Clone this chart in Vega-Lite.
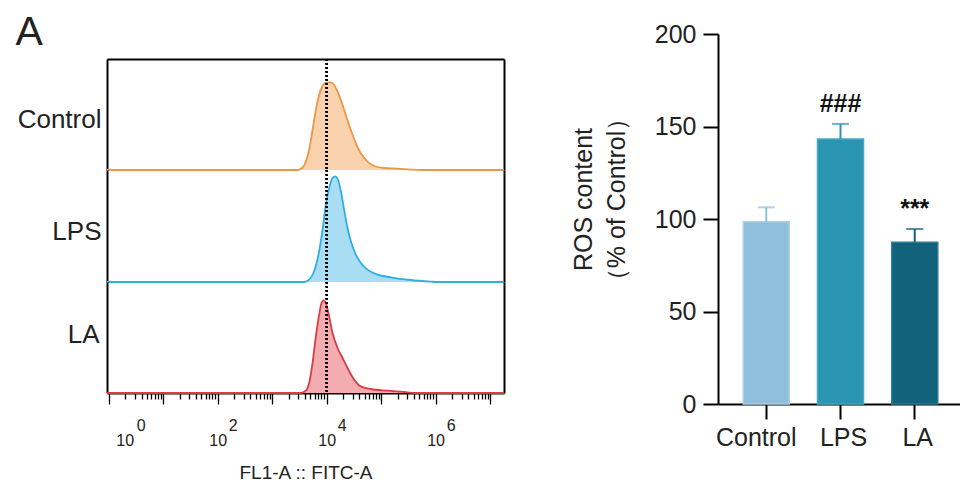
{
  "$schema": "https://vega.github.io/schema/vega-lite/v6.json",
  "background": "white",
  "padding": {"left": 15, "top": 11, "right": 0, "bottom": 0},
  "datasets": {
    "hist": [
      {"group": "Control", "fl1": 0.93, "count": 0},
      {"group": "Control", "fl1": 2924, "count": 0},
      {"group": "Control", "fl1": 3614, "count": 2.4},
      {"group": "Control", "fl1": 4150, "count": 8.4},
      {"group": "Control", "fl1": 4775, "count": 20},
      {"group": "Control", "fl1": 5508, "count": 40},
      {"group": "Control", "fl1": 6339, "count": 60},
      {"group": "Control", "fl1": 7278, "count": 75},
      {"group": "Control", "fl1": 8414, "count": 84},
      {"group": "Control", "fl1": 9661, "count": 87.4},
      {"group": "Control", "fl1": 11940, "count": 87.7},
      {"group": "Control", "fl1": 13740, "count": 85},
      {"group": "Control", "fl1": 15850, "count": 78.4},
      {"group": "Control", "fl1": 19590, "count": 65},
      {"group": "Control", "fl1": 22490, "count": 55},
      {"group": "Control", "fl1": 27800, "count": 40},
      {"group": "Control", "fl1": 34360, "count": 26.7},
      {"group": "Control", "fl1": 42460, "count": 16.7},
      {"group": "Control", "fl1": 56230, "count": 8.4},
      {"group": "Control", "fl1": 74470, "count": 4},
      {"group": "Control", "fl1": 113500, "count": 2},
      {"group": "Control", "fl1": 200000, "count": 1.4},
      {"group": "Control", "fl1": 350800, "count": 0.4},
      {"group": "Control", "fl1": 606700, "count": 0},
      {"group": "Control", "fl1": 18000000, "count": 0},
      {"group": "LPS", "fl1": 0.93, "count": 0},
      {"group": "LPS", "fl1": 3864, "count": 0},
      {"group": "LPS", "fl1": 4775, "count": 2.4},
      {"group": "LPS", "fl1": 5902, "count": 10.7},
      {"group": "LPS", "fl1": 7278, "count": 30.7},
      {"group": "LPS", "fl1": 8414, "count": 52.4},
      {"group": "LPS", "fl1": 9661, "count": 77.4},
      {"group": "LPS", "fl1": 11120, "count": 94},
      {"group": "LPS", "fl1": 12820, "count": 104},
      {"group": "LPS", "fl1": 14320, "count": 105.7},
      {"group": "LPS", "fl1": 15850, "count": 103.4},
      {"group": "LPS", "fl1": 18240, "count": 90.7},
      {"group": "LPS", "fl1": 20940, "count": 72.4},
      {"group": "LPS", "fl1": 24150, "count": 54},
      {"group": "LPS", "fl1": 27800, "count": 40.7},
      {"group": "LPS", "fl1": 34360, "count": 27.4},
      {"group": "LPS", "fl1": 42460, "count": 19},
      {"group": "LPS", "fl1": 56230, "count": 12.4},
      {"group": "LPS", "fl1": 85900, "count": 7.4},
      {"group": "LPS", "fl1": 150700, "count": 4.7},
      {"group": "LPS", "fl1": 350800, "count": 2},
      {"group": "LPS", "fl1": 816600, "count": 0.4},
      {"group": "LPS", "fl1": 1084000, "count": 0},
      {"group": "LPS", "fl1": 18000000, "count": 0},
      {"group": "LA", "fl1": 0.93, "count": 0},
      {"group": "LA", "fl1": 3365, "count": 0},
      {"group": "LA", "fl1": 4150, "count": 2.3},
      {"group": "LA", "fl1": 4775, "count": 10},
      {"group": "LA", "fl1": 5508, "count": 30},
      {"group": "LA", "fl1": 6339, "count": 56.6},
      {"group": "LA", "fl1": 7278, "count": 78.3},
      {"group": "LA", "fl1": 8054, "count": 90},
      {"group": "LA", "fl1": 8770, "count": 92.6},
      {"group": "LA", "fl1": 9661, "count": 90},
      {"group": "LA", "fl1": 11120, "count": 76.6},
      {"group": "LA", "fl1": 12820, "count": 60},
      {"group": "LA", "fl1": 15850, "count": 45},
      {"group": "LA", "fl1": 19590, "count": 35},
      {"group": "LA", "fl1": 24150, "count": 25},
      {"group": "LA", "fl1": 31990, "count": 13.3},
      {"group": "LA", "fl1": 42460, "count": 6.6},
      {"group": "LA", "fl1": 64710, "count": 4},
      {"group": "LA", "fl1": 130900, "count": 2.3},
      {"group": "LA", "fl1": 264200, "count": 1},
      {"group": "LA", "fl1": 403600, "count": 0},
      {"group": "LA", "fl1": 18000000, "count": 0}
    ],
    "bars": [
      {"group": "Control", "mean": 98.5, "upper": 106.3, "sig": ""},
      {"group": "LPS", "mean": 143.2, "upper": 151.4, "sig": "###"},
      {"group": "LA", "mean": 87.4, "upper": 94.6, "sig": "***"}
    ]
  },
  "hconcat": [
    {
      "data": {"name": "hist"},
      "spacing": 0,
      "bounds": "flush",
      "vconcat": [
        {
          "width": 397, "height": 25,
          "transform": [{"filter": "datum.group === 'Control' && datum.count > 87.5"}],
          "mark": {"type": "rule", "opacity": 0},
          "encoding": {}
        },
        {
          "width": 397, "height": 111,
          "transform": [{"filter": "datum.group === 'Control'"}],
          "layer": [
            {"mark": {"type": "area", "color": "#fad3ae", "interpolate": "monotone"},
             "encoding": {
               "x": {"field": "fl1", "type": "quantitative", "scale": {"type": "log", "domain": [0.93, 18000000], "nice": false},
                     "axis": {"orient": "top", "domainColor": "black", "domainWidth": 2, "ticks": false, "labels": false, "grid": false,
                              "title": "A", "titleFontSize": 41, "titleFontWeight": "normal", "titleColor": "#222", "titleAngle": 0,
                              "titleAlign": "left", "titleBaseline": "alphabetic", "titleX": -92, "titleY": -15}},
               "y": {"field": "count", "type": "quantitative", "scale": {"domain": [0, 111], "nice": false},
                     "axis": {"orient": "left", "domainColor": "black", "domainWidth": 2, "ticks": false, "labels": false, "grid": false, "title": "Control", "titleAngle": 0, "titleAlign": "right", "titleBaseline": "middle", "titleFontSize": 26, "titleFontWeight": "normal", "titlePadding": 6, "titleColor": "#222", "titleY": 60}}
             }},
            {"mark": {"type": "line", "color": "#eb9747", "strokeWidth": 1.8, "interpolate": "monotone"},
             "encoding": {
               "x": {"field": "fl1", "type": "quantitative", "axis": null},
               "y": {"field": "count", "type": "quantitative", "axis": {"orient": "right", "domainColor": "black", "domainWidth": 2, "ticks": false, "labels": false, "grid": false, "title": null}}
             }},
            {"mark": {"type": "rule", "color": "black", "strokeDash": [1.6, 2.4], "strokeWidth": 1.5},
             "encoding": {"x": {"datum": 10000, "type": "quantitative", "axis": null}}}
          ],
          "resolve": {"axis": {"x": "independent", "y": "independent"}}
        },
        {
          "width": 397, "height": 112,
          "transform": [{"filter": "datum.group === 'LPS'"}],
          "layer": [
            {"mark": {"type": "area", "color": "#a9ddf3", "interpolate": "monotone"},
             "encoding": {
               "x": {"field": "fl1", "type": "quantitative", "scale": {"type": "log", "domain": [0.93, 18000000], "nice": false}, "axis": null},
               "y": {"field": "count", "type": "quantitative", "scale": {"domain": [0, 112], "nice": false},
                     "axis": {"orient": "left", "domainColor": "black", "domainWidth": 2, "ticks": false, "labels": false, "grid": false, "title": "LPS", "titleAngle": 0, "titleAlign": "right", "titleBaseline": "middle", "titleFontSize": 26, "titleFontWeight": "normal", "titlePadding": 6, "titleColor": "#222", "titleY": 61}}
             }},
            {"mark": {"type": "line", "color": "#2fafe1", "strokeWidth": 1.8, "interpolate": "monotone"},
             "encoding": {
               "x": {"field": "fl1", "type": "quantitative", "axis": null},
               "y": {"field": "count", "type": "quantitative", "axis": {"orient": "right", "domainColor": "black", "domainWidth": 2, "ticks": false, "labels": false, "grid": false, "title": null}}
             }},
            {"mark": {"type": "rule", "color": "black", "strokeDash": [1.6, 2.4], "strokeWidth": 1.5},
             "encoding": {"x": {"datum": 10000, "type": "quantitative", "axis": null}}}
          ],
          "resolve": {"axis": {"x": "independent", "y": "independent"}}
        },
        {
          "width": 397, "height": 111,
          "transform": [{"filter": "datum.group === 'LA'"}],
          "layer": [
            {"mark": {"type": "area", "color": "#f3adb0", "interpolate": "monotone"},
             "encoding": {
               "x": {"field": "fl1", "type": "quantitative", "scale": {"type": "log", "domain": [0.93, 18000000], "nice": false},
                     "axis": {"orient": "bottom", "domainColor": "black", "domainWidth": 2, "grid": false,
                              "values": [1,2,3,4,5,6,7,8,9,10,20,30,40,50,60,70,80,90,100,200,300,400,500,600,700,800,900,1000,2000,3000,4000,5000,6000,7000,8000,9000,10000,20000,30000,40000,50000,60000,70000,80000,90000,100000,200000,300000,400000,500000,600000,700000,800000,900000,1000000,2000000,3000000,4000000,5000000,6000000,7000000,8000000,9000000,10000000],
                              "tickColor": "black", "tickWidth": 1.3,
                              "tickSize": {"condition": {"test": "indexof([1,10,100,1000,10000,100000,1000000,10000000], datum.value) >= 0", "value": 11}, "value": 6},
                              "labelExpr": "indexof([1,100,10000,1000000], datum.value) >= 0 ? '10' : ''",
                              "labelOffset": {"condition": {"test": "datum.value == 1", "value": 16}, "value": 0},
                              "labelOverlap": false, "labelFlush": false, "labelFontSize": 16, "labelColor": "#222", "labelPadding": 28,
                              "title": "FL1-A :: FITC-A", "titleFontSize": 19, "titleFontWeight": "normal", "titleColor": "#222", "titlePadding": 15}},
               "y": {"field": "count", "type": "quantitative", "scale": {"domain": [0, 111], "nice": false},
                     "axis": {"orient": "left", "domainColor": "black", "domainWidth": 2, "ticks": false, "labels": false, "grid": false, "title": "LA", "titleAngle": 0, "titleAlign": "right", "titleBaseline": "middle", "titleFontSize": 26, "titleFontWeight": "normal", "titlePadding": 8, "titleColor": "#222", "titleY": 52}}
             }},
            {"mark": {"type": "line", "color": "#d93c44", "strokeWidth": 1.8, "interpolate": "monotone"},
             "encoding": {
               "x": {"field": "fl1", "type": "quantitative",
                     "axis": {"orient": "bottom", "domain": false, "ticks": false, "grid": false, "values": [1, 100, 10000, 1000000],
                              "labelExpr": "format(log(datum.value)/LN10, 'd')", "labelOverlap": false, "labelFlush": false,
                              "labelOffset": {"condition": {"test": "datum.value == 1", "value": 32}, "value": 15},
                              "labelFontSize": 16, "labelColor": "#222", "labelPadding": 24, "title": null}},
               "y": {"field": "count", "type": "quantitative", "axis": {"orient": "right", "domainColor": "black", "domainWidth": 2, "ticks": false, "labels": false, "grid": false, "title": null}}
             }},
            {"mark": {"type": "rule", "color": "black", "strokeDash": [1.6, 2.4], "strokeWidth": 1.5},
             "encoding": {"x": {"datum": 10000, "type": "quantitative", "axis": null}}}
          ],
          "resolve": {"axis": {"x": "independent", "y": "independent"}}
        }
      ]
    },
    {
      "width": 245, "height": 370,
      "data": {"name": "bars"},
      "encoding": {
        "x": {"field": "group", "type": "nominal", "sort": ["Control", "LPS", "LA"],
              "scale": {"paddingInner": 0.38, "paddingOuter": 0.34},
              "axis": {"domainColor": "black", "domainWidth": 2, "tickColor": "black", "tickWidth": 2, "tickSize": 15, "labelFontSize": 25, "labelColor": "#222", "labelPadding": 6, "labelAngle": 0, "title": null,
                       "labelOffset": {"condition": {"test": "datum.value === 'Control'", "value": -10}, "value": 3}}}
      },
      "layer": [
        {"mark": {"type": "bar", "strokeWidth": 1.5},
         "encoding": {
           "y": {"field": "mean", "type": "quantitative", "scale": {"domain": [0, 200], "nice": false},
                 "axis": {"values": [0, 50, 100, 150, 200], "grid": false, "domainColor": "black", "domainWidth": 2, "tickColor": "black", "tickWidth": 2, "tickSize": 15,
                          "labelFontSize": 25, "labelColor": "#222", "labelPadding": 7,
                          "title": ["ROS content", "（% of Control）"], "titleFontSize": 25, "titleFontWeight": "normal", "titleColor": "#222", "titlePadding": 25, "titleLineHeight": 33, "titleY": 165}},
           "fill": {"field": "group", "type": "nominal", "scale": {"domain": ["Control", "LPS", "LA"], "range": ["#8fbfda", "#2a95b0", "#13627c"]}, "legend": null},
           "stroke": {"field": "group", "type": "nominal", "scale": {"domain": ["Control", "LPS", "LA"], "range": ["#acd2e6", "#4aa9c2", "#2d7b94"]}, "legend": null}
         }},
        {"mark": {"type": "rule", "strokeWidth": 2},
         "encoding": {
           "y": {"field": "mean", "type": "quantitative"},
           "y2": {"field": "upper"},
           "color": {"field": "group", "type": "nominal", "scale": {"domain": ["Control", "LPS", "LA"], "range": ["#8fbfda", "#2a95b0", "#13627c"]}, "legend": null}
         }},
        {"mark": {"type": "tick", "thickness": 2, "size": 17, "orient": "horizontal"},
         "encoding": {
           "y": {"field": "upper", "type": "quantitative"},
           "color": {"field": "group", "type": "nominal", "scale": {"domain": ["Control", "LPS", "LA"], "range": ["#8fbfda", "#2a95b0", "#13627c"]}, "legend": null}
         }},
        {"mark": {"type": "text", "fontSize": 25, "fontWeight": "bold", "dy": -12, "baseline": "alphabetic", "color": "#111"},
         "encoding": {
           "y": {"field": "upper", "type": "quantitative"},
           "text": {"field": "sig", "type": "nominal"}
         }}
      ]
    }
  ],
  "spacing": 63,
  "config": {
    "view": {"stroke": null},
    "font": "Liberation Sans",
    "axis": {"grid": false}
  }
}
